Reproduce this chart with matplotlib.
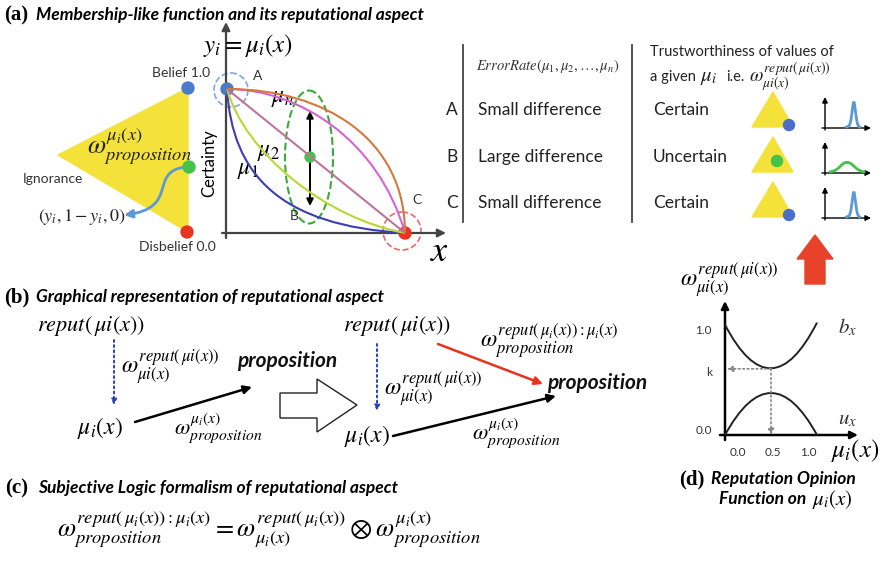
import matplotlib
matplotlib.use('Agg')
import matplotlib.pyplot as plt
from matplotlib.path import Path
from matplotlib.patches import PathPatch, Polygon, Circle, Ellipse, FancyArrowPatch

plt.rcParams['font.family'] = ['Lato', 'DejaVu Sans']
plt.rcParams['mathtext.fontset'] = 'stix'

W, H = 885, 561

# ---- data -------------------------------------------------------------
# membership curves mu_1 .. mu_n: cubic bezier control points (x, certainty)
MU_NAMES = ['mu1', 'mu2', 'mid', 'magenta', 'mun']
MU_COLORS = ['#3d3db8', '#b9d82f', '#c0739b', '#d862d8', '#d27a3c']
MU_CTRL = [
    [(0, 1), (0.03, 0.40), (0.30, 0.05), (1, 0)],
    [(0, 1), (0.10, 0.556), (0.556, 0.10), (1, 0)],
    [(0, 1), (1/3, 2/3), (2/3, 1/3), (1, 0)],
    [(0, 1), (0.40, 1.0), (0.85, 0.65), (1, 0)],
    [(0, 1), (0.55, 1.0), (1.0, 0.65), (1, 0)],
]

# table rows
ROWS = ['A', 'B', 'C']
ERR_TEXT = ['Small difference', 'Large difference', 'Small difference']
TRUST_TEXT = ['Certain', 'Uncertain', 'Certain']
DOT_COLORS = ['#4a6fc9', '#45c24a', '#4a6fc9']
PEAK_COLORS = ['#5b9bd5', '#45c24a', '#5b9bd5']
SPIKE = [(0.45, 0.02), (0.5, 0.04), (0.56, 0.1), (0.6, 0.5), (0.64, 1.0),
         (0.68, 0.5), (0.72, 0.1), (0.77, 0.03), (0.8, 0.02)]
BUMP = [(0.09, 0.03), (0.2, 0.06), (0.3, 0.16), (0.4, 0.32), (0.49, 0.37),
        (0.6, 0.3), (0.7, 0.14), (0.8, 0.06), (0.9, 0.03)]
PEAKS = [SPIKE, BUMP, SPIKE]

# reputation opinion function (d): quadratic bezier control points
BX_CTRL = [(0, 1.05), (0.5, 0.21), (1, 1.07)]
UX_CTRL = [(0, 0.0), (0.5, 0.8), (1, 0.0)]
K_VAL = 0.63
D_XTICKS = ['0.0', '0.5', '1.0']
D_YTICKS = ['1.0', 'k', '0.0']

YELLOW = '#f4e23a'
TITLE_KW = dict(fontsize=12.5, fontweight='bold', style='italic', va='center')
LBL_KW = dict(family='Liberation Serif', fontsize=15, fontweight='bold', va='center')

fig = plt.figure(figsize=(W / 100, H / 100), dpi=100)
ax = fig.add_axes([0, 0, 1, 1])
ax.set_xlim(0, W); ax.set_ylim(H, 0); ax.axis('off')


def sub_axes(x0, ybot, x1, ytop, ylim=(0, 1)):
    a = fig.add_axes([x0 / W, 1 - ybot / H, (x1 - x0) / W, (ybot - ytop) / H])
    a.set_xlim(0, 1); a.set_ylim(*ylim); a.axis('off')
    return a


def bezier(a, pts, **kw):
    codes = [Path.MOVETO] + [Path.CURVE4 if len(pts) == 4 else Path.CURVE3] * (len(pts) - 1)
    p = PathPatch(Path(pts, codes), fill=False, clip_on=False, **kw)
    a.add_patch(p)


def smooth(a, pts, **kw):
    verts, codes = [pts[0]], [Path.MOVETO]
    for i in range(1, len(pts) - 1):
        mid = ((pts[i][0] + pts[i + 1][0]) / 2, (pts[i][1] + pts[i + 1][1]) / 2)
        verts += [pts[i], mid]; codes += [Path.CURVE3, Path.CURVE3]
    verts.append(pts[-1]); codes.append(Path.LINETO)
    a.add_patch(PathPatch(Path(verts, codes), fill=False, clip_on=False, **kw))


def arrow(p0, p1, color='black', lw=1.5, style='-|>', ms=12, ls='-', a=ax):
    a.annotate('', xy=p1, xytext=p0, annotation_clip=False,
               arrowprops=dict(arrowstyle=style, color=color, lw=lw, ls=ls,
                               mutation_scale=ms, shrinkA=0, shrinkB=0))


def dot(x, y, c, r=6):
    ax.add_patch(Circle((x, y), r, color=c, zorder=5))


# ===================== (a) ============================================
ax.text(4, 15, '(a)', **LBL_KW)
ax.text(36, 15, 'Membership-like function and its reputational aspect', **TITLE_KW)

ax.add_patch(Polygon([(58, 155), (188, 88), (188, 232)], color=YELLOW))
dot(188, 88, '#4a7cc9'); dot(189, 167, '#45c24a'); dot(187, 232, '#e8351f')
ax.text(152, 73, 'Belief 1.0', fontsize=10, va='center', color='#333')
ax.text(23, 179, 'Ignorance', fontsize=10, va='center', color='#333')
ax.text(139, 247, 'Disbelief 0.0', fontsize=10, va='center', color='#333')
ax.text(87, 147, r'$\omega^{\mu_i(x)}_{proposition}$', fontsize=19, va='center', color='#222')
ax.text(38, 217, r'$(y_i,1-y_i,0)$', fontsize=13, va='center', color='#222')
curl = Path([(185, 167), (148, 172), (180, 208), (124, 215)],
            [Path.MOVETO, Path.CURVE4, Path.CURVE4, Path.CURVE4])
ax.add_patch(FancyArrowPatch(path=curl, arrowstyle='-|>', mutation_scale=12,
                             color='#5b9bd5', lw=2))

# plot axes
arrow((226, 238), (226, 22), color='#444', lw=1.6)
arrow((222, 233), (446, 233), color='#444', lw=1.6)
ax.text(203, 45, r'$y_i = \mu_i(x)$', fontsize=18, va='center')
ax.text(209, 163, 'Certainty', fontsize=12, rotation=90, ha='center', va='center')
ax.text(430, 250, r'$x$', fontsize=26, va='center')

ax_mu = sub_axes(227, 233, 405, 89)
for ctrl, c in zip(MU_CTRL, MU_COLORS):
    bezier(ax_mu, ctrl, color=c, lw=1.5)

ax.add_patch(Circle((231, 90), 17, fill=False, ls='--', ec='#7fa6e0', lw=1.2))
ax.add_patch(Circle((402, 231), 19, fill=False, ls='--', ec='#e86a6a', lw=1.2))
ax.add_patch(Ellipse((309, 157), 48, 133, fill=False, ls='--', ec='#3baa3b', lw=1.5))
arrow((310, 157), (310, 111), ms=10, lw=1.4)
arrow((310, 157), (310, 206), ms=10, lw=1.4)
dot(227, 89, '#4a7cc9'); dot(405, 233, '#e8351f'); dot(310, 157, '#45c24a', r=5)
ax.text(253, 76, 'A', fontsize=10, va='center', color='#333')
ax.text(290, 216, 'B', fontsize=10, va='center', color='#333')
ax.text(412, 200, 'C', fontsize=10, va='center', color='#333')
ax.text(271, 98, r'$\mu_n$', fontsize=17, va='center')
ax.text(257, 152, r'$\mu_2$', fontsize=17, va='center')
ax.text(237, 170, r'$\mu_1$', fontsize=17, va='center')

# table
for xl in (463, 632):
    ax.plot([xl, xl], [45, 222], color='#444', lw=1.3)
ax.text(476, 66, r'$ErrorRate(\mu_1,\mu_2,\ldots,\mu_n)$', fontsize=10.5, va='center',
        color='#333')
ax.text(650, 52, 'Trustworthiness of values of', fontsize=10.5, va='center', color='#222')
ax.text(650, 77, 'a given', fontsize=10.5, va='center', color='#222')
ax.text(700, 77, r'$\mu_i$', fontsize=15, va='center', color='#222')
ax.text(726, 77, 'i.e.', fontsize=10.5, va='center', color='#222')
ax.text(749, 77, r'$\omega^{reput(\,\mu i(x))}_{\mu i(x)}$', fontsize=14, va='center',
        color='#222')

row_y = [110, 157, 203]
tri_y = [110, 155, 200]
for i, (rl, et, tt) in enumerate(zip(ROWS, ERR_TEXT, TRUST_TEXT)):
    y = row_y[i]
    ax.text(446, y, rl, fontsize=12.5, va='center', color='#222')
    ax.text(478, y, et, fontsize=12.5, va='center', color='#222')
    ax.text(653, y, tt, fontsize=12.5, va='center', color='#222')
    ty = tri_y[i]
    ax.add_patch(Polygon([(752, ty + 17), (773, ty - 18), (793, ty + 17)], color=YELLOW))
    if i == 1:
        dot(777, ty + 6, DOT_COLORS[i], r=5.5)
    else:
        dot(789, ty + 15, DOT_COLORS[i], r=5.5)
    base = ty + 18
    arrow((825, base + 2), (825, base - 31), lw=1, ms=8)
    arrow((822, base), (871, base), lw=1, ms=8)
    sa = sub_axes(825, base, 870, base - 30)
    smooth(sa, PEAKS[i], color=PEAK_COLORS[i], lw=2)

# big red arrow
ax.add_patch(Polygon([(805, 284), (805, 259), (797, 259), (815, 235), (833, 259),
                      (825, 259), (825, 284)], color='#e8422b'))

# ===================== (b) ============================================
ax.text(4, 297, '(b)', **LBL_KW)
ax.text(36, 297, 'Graphical representation of reputational aspect', **TITLE_KW)

PROP_KW = dict(fontsize=15, fontweight='bold', style='italic', va='center', color='#111')
ax.text(37, 326, r'$reput(\,\mu i(x))$', fontsize=16, va='center')
arrow((114, 340), (114, 405), color='#2a3fbf', lw=1.4, ls=':', ms=8)
ax.text(121, 367, r'$\omega^{reput(\,\mu i(x))}_{\mu i(x)}$', fontsize=17, va='center')
ax.text(237, 361, 'proposition', **PROP_KW)
ax.text(77, 428, r'$\mu_i(x)$', fontsize=17, va='center')
arrow((135, 422), (252, 387), lw=1.8, ms=12)
ax.text(174, 428, r'$\omega^{\mu_i(x)}_{proposition}$', fontsize=16, va='center')

ax.add_patch(Polygon([(280, 393), (317, 393), (317, 379), (357, 405), (317, 432),
                      (317, 418), (280, 418)], fc='white', ec='#222', lw=1))

ax.text(343, 326, r'$reput(\,\mu i(x))$', fontsize=16, va='center')
arrow((377, 344), (377, 411), color='#2a3fbf', lw=1.4, ls=':', ms=8)
ax.text(384, 389, r'$\omega^{reput(\,\mu i(x))}_{\mu i(x)}$', fontsize=17, va='center')
arrow((438, 344), (543, 384), color='#e8321e', lw=1.8, ms=12)
ax.text(480, 342, r'$\omega^{reput(\,\mu_i(x)):\mu_i(x)}_{proposition}$', fontsize=17,
        va='center')
ax.text(547, 383, 'proposition', **PROP_KW)
ax.text(344, 436, r'$\mu_i(x)$', fontsize=17, va='center')
arrow((393, 436), (556, 396), lw=1.8, ms=12)
ax.text(472, 433, r'$\omega^{\mu_i(x)}_{proposition}$', fontsize=16, va='center')

# ===================== (c) ============================================
ax.text(5, 488, '(c)', **LBL_KW)
ax.text(38, 488, 'Subjective Logic formalism of reputational aspect', **TITLE_KW)
ax.text(57, 530,
        r'$\omega^{reput(\,\mu_i(x)):\mu_i(x)}_{proposition} = '
        r'\omega^{reput(\,\mu_i(x))}_{\mu_i(x)} \otimes \omega^{\mu_i(x)}_{proposition}$',
        fontsize=19, va='center')

# ===================== (d) ============================================
ax.text(680, 280, r'$\omega^{reput(\,\mu i(x))}_{\mu i(x)}$', fontsize=17, va='center')
arrow((725, 440), (725, 301), lw=1.8, ms=11)
arrow((720, 435), (858, 435), lw=1.8, ms=11)
ax_d = sub_axes(725, 435, 817, 330)
bezier(ax_d, BX_CTRL, color='#222', lw=1.4)
bezier(ax_d, UX_CTRL, color='#222', lw=1.4)
arrow((0.5, K_VAL), (0.02, K_VAL), color='#888', lw=1.2, ls=':', ms=9, a=ax_d)
arrow((0.5, K_VAL), (0.5, 0.0), color='#888', lw=1.2, ls=':', ms=9, a=ax_d)
for lab, yy in zip(D_YTICKS, [330, 372, 430]):
    ax.text(712, yy, lab, fontsize=8.5, ha='right', va='center', color='#333')
for lab, xx in zip(D_XTICKS, [738, 773, 808]):
    ax.text(xx, 452, lab, fontsize=8.5, ha='center', va='center', color='#333')
ax.text(838, 327, r'$b_x$', fontsize=15, va='center', color='#333')
ax.text(838, 419, r'$u_x$', fontsize=15, va='center', color='#333')
ax.text(831, 450, r'$\mu_i(x)$', fontsize=18, va='center')
ax.text(679, 479, '(d)', **LBL_KW)
ax.text(711, 479, 'Reputation Opinion', **TITLE_KW)
ax.text(719, 499, 'Function on', **TITLE_KW)
ax.text(812, 499, r'$\mu_i(x)$', fontsize=15, va='center')

fig.savefig('out.png', dpi=100)
